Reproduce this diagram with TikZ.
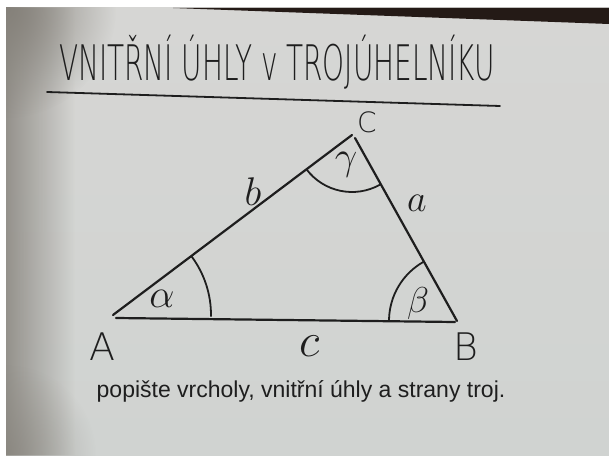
\RequirePackage{fix-cm}
\documentclass[tikz,border=0pt]{standalone}
\usepackage{graphicx}
\usepackage{fontspec}
\setmainfont{Liberation Sans}
\newfontfamily\handfont{DejaVu Sans ExtraLight}
\usetikzlibrary{angles,calc,fadings}
\definecolor{ink}{HTML}{1E1E1E}
\definecolor{board}{HTML}{E4E5E3}
\definecolor{boardlow}{HTML}{D0D3D1}
\definecolor{boardtop}{HTML}{D6D6D4}
\definecolor{edge}{HTML}{85817A}
\definecolor{frame}{HTML}{241A16}
\tikzfading[name=fade right, left color=transparent!0, right color=transparent!100]
\tikzfading[name=fade out, inner color=transparent!0, outer color=transparent!100]
\tikzset{
  side/.style={draw=ink,line width=2.2pt,line cap=round},
  arcmark/.style={draw=ink,line width=1.8pt},
  hand/.style={font=\handfont\fontsize{#1}{#1}\selectfont,text=ink,inner sep=0pt},
  hand/.default=34,
  slabel/.style={font=\fontsize{#1}{#1}\selectfont,text=ink,inner sep=0pt},
  slabel/.default=30,
}
\begin{document}
\begin{tikzpicture}[x=1pt,y=1pt]
  \useasboundingbox (0,0) rectangle (609,455);
  % board and photo edges
  \fill[white] (0,0) rectangle (609,455);
  \begin{scope}
    \clip (6,0) rectangle (609,447);
    \shade[top color=boardtop,middle color=board,bottom color=boardlow] (6,0) rectangle (609,447);
    \fill[edge,path fading=fade right,opacity=.8] (6,0) rectangle (75,447);
    \fill[edge,path fading=fade out] (6,447) circle (110);
    \fill[edge,path fading=fade out,opacity=.6] (6,0) circle (90);
    \fill[frame] (173,447) -- (609,447) -- (609,431) -- cycle;
  \end{scope}
  % title
  \node[hand=49,anchor=base] (title) at (277,374) {\scalebox{0.57}[1]{VNITŘNÍ ÚHLY v TROJÚHELNÍKU}};
  \coordinate (u1) at (47,363);
  \coordinate (u2) at (500,349);
  \draw[side,line width=1.8pt] (u1) -- (u2);
  % triangle
  \coordinate (A) at (113,140);
  \coordinate (B) at (457,134);
  \coordinate (C) at (352,320);
  \draw[side] (A) -- (C);
  \draw[side] ($(C)+(3,-3)$) -- (B);
  \draw[side] ($(A)+(3,-3)$) -- ($(B)+(-2,-1)$);
  \pic[arcmark,angle radius=98pt] {angle=B--A--C};
  \pic[arcmark,angle radius=68pt] {angle=C--B--A};
  \pic[arcmark,angle radius=57pt] {angle=A--C--B};
  % vertices
  \node[hand=38] (lA) at (102,108) {A};
  \node[hand=38] (lB) at (466,108) {B};
  \node[hand=28] (lC) at (367,333) {C};
  % sides
  \node[slabel=38] (la) at (417,252) {$a$};
  \node[slabel=40] (lb) at (253,263) {$b$};
  \node[slabel=48] (lc) at (310,109) {$c$};
  % angles
  \node[slabel=40] (lal) at (162,156) {$\alpha$};
  \node[slabel=36] (lbe) at (418,152) {$\beta$};
  \node[slabel=40] (lga) at (346,290) {$\gamma$};
  % task
  \node[font=\fontsize{23}{23}\selectfont,text=ink,anchor=base] (task) at (301,58) {popište vrcholy, vnitřní úhly a strany troj.};
\end{tikzpicture}
\end{document}
